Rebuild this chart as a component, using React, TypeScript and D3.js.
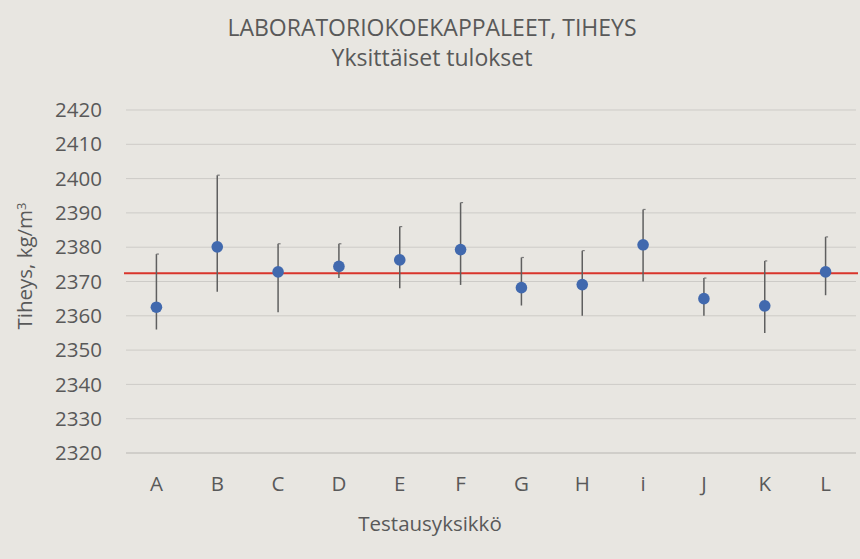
import React, { useEffect, useRef } from 'react';
import * as d3 from 'd3';

const categories = ['A', 'B', 'C', 'D', 'E', 'F', 'G', 'H', 'i', 'J', 'K', 'L'];
const means = [2362.5, 2380.1, 2372.8, 2374.4, 2376.3, 2379.3, 2368.2, 2369.1, 2380.7, 2365.0, 2362.9, 2372.8];
const maxValues = [2378, 2401, 2381, 2381, 2386, 2393, 2377, 2379, 2391, 2371, 2376, 2383];
const minValues = [2356, 2367, 2361, 2371, 2368, 2369, 2363, 2360, 2370, 2360, 2355, 2366];
const referenceValue = 2372.4;
const yTicks = [2320, 2330, 2340, 2350, 2360, 2370, 2380, 2390, 2400, 2410, 2420];

const W = 860;
const H = 559;
const margin = { top: 110, right: 4, bottom: 106, left: 126 };
const textColor = '#595959';
const font = '"Open Sans", sans-serif';

export default function App() {
  const ref = useRef<SVGSVGElement>(null);

  useEffect(() => {
    const svg = d3.select(ref.current);
    svg.selectAll('*').remove();

    svg.append('rect').attr('width', W).attr('height', H).attr('fill', '#e8e6e1');

    const x = d3.scaleBand()
      .domain(categories)
      .range([margin.left, W - margin.right]);

    const y = d3.scaleLinear()
      .domain([2320, 2420])
      .range([H - margin.bottom, margin.top]);

    // gridlines
    svg.append('g')
      .selectAll('line')
      .data(yTicks)
      .join('line')
      .attr('x1', margin.left)
      .attr('x2', W - margin.right)
      .attr('y1', d => y(d))
      .attr('y2', d => y(d))
      .attr('stroke', d => d === 2320 ? '#b8b6b2' : '#cdcbc7')
      .attr('stroke-width', 1);

    // y tick labels
    svg.append('g')
      .selectAll('text')
      .data(yTicks)
      .join('text')
      .attr('x', 102)
      .attr('y', d => y(d))
      .attr('dy', '0.35em')
      .attr('text-anchor', 'end')
      .attr('font-family', font)
      .attr('font-size', 20.5)
      .attr('fill', textColor)
      .text(d => d);

    // x labels
    svg.append('g')
      .selectAll('text')
      .data(categories)
      .join('text')
      .attr('x', d => x(d)! + x.bandwidth() / 2)
      .attr('y', 484)
      .attr('dy', '0.35em')
      .attr('text-anchor', 'middle')
      .attr('font-family', font)
      .attr('font-size', 20.5)
      .attr('fill', textColor)
      .text(d => d);

    // reference line
    svg.append('line')
      .attr('x1', margin.left - 2)
      .attr('x2', W - 2)
      .attr('y1', y(referenceValue))
      .attr('y2', y(referenceValue))
      .attr('stroke', '#d9342b')
      .attr('stroke-width', 2);

    // error bars, small flag at the top end
    const bars = svg.append('g');
    categories.forEach((c, i) => {
      const cx = x(c)! + x.bandwidth() / 2;
      bars.append('line')
        .attr('x1', cx).attr('x2', cx)
        .attr('y1', y(maxValues[i])).attr('y2', y(minValues[i]))
        .attr('stroke', '#5f5f5f')
        .attr('stroke-width', 1.5);
      bars.append('line')
        .attr('x1', cx).attr('x2', cx + 2.5)
        .attr('y1', y(maxValues[i])).attr('y2', y(maxValues[i]))
        .attr('stroke', '#7a7a7a')
        .attr('stroke-width', 1.2);
    });

    // points
    svg.append('g')
      .selectAll('circle')
      .data(categories)
      .join('circle')
      .attr('cx', d => x(d)! + x.bandwidth() / 2)
      .attr('cy', (d, i) => y(means[i]))
      .attr('r', 5.8)
      .attr('fill', '#4169ae');

    // titles
    svg.append('text')
      .attr('x', 432).attr('y', 28).attr('dy', '0.35em')
      .attr('text-anchor', 'middle')
      .attr('font-family', font).attr('font-size', 23)
      .attr('fill', textColor)
      .text('LABORATORIOKOEKAPPALEET, TIHEYS');
    svg.append('text')
      .attr('x', 432).attr('y', 58).attr('dy', '0.35em')
      .attr('text-anchor', 'middle')
      .attr('font-family', font).attr('font-size', 23)
      .attr('fill', textColor)
      .text('Yksittäiset tulokset');

    svg.append('text')
      .attr('x', 430).attr('y', 524).attr('dy', '0.35em')
      .attr('text-anchor', 'middle')
      .attr('font-family', font).attr('font-size', 20.5)
      .attr('fill', textColor)
      .text('Testausyksikkö');

    const yl = svg.append('text')
      .attr('transform', 'translate(25,266) rotate(-90)')
      .attr('dy', '0.35em')
      .attr('text-anchor', 'middle')
      .attr('font-family', font).attr('font-size', 20.5)
      .attr('fill', textColor);
    yl.append('tspan').text('Tiheys, kg/m');
    yl.append('tspan').attr('dy', '-0.45em').attr('font-size', 13).text('3');
  }, []);

  return (
    <svg
      ref={ref}
      width={W}
      height={H}
      style={{ position: 'absolute', left: 0, top: 0, display: 'block' }}
    />
  );
}
